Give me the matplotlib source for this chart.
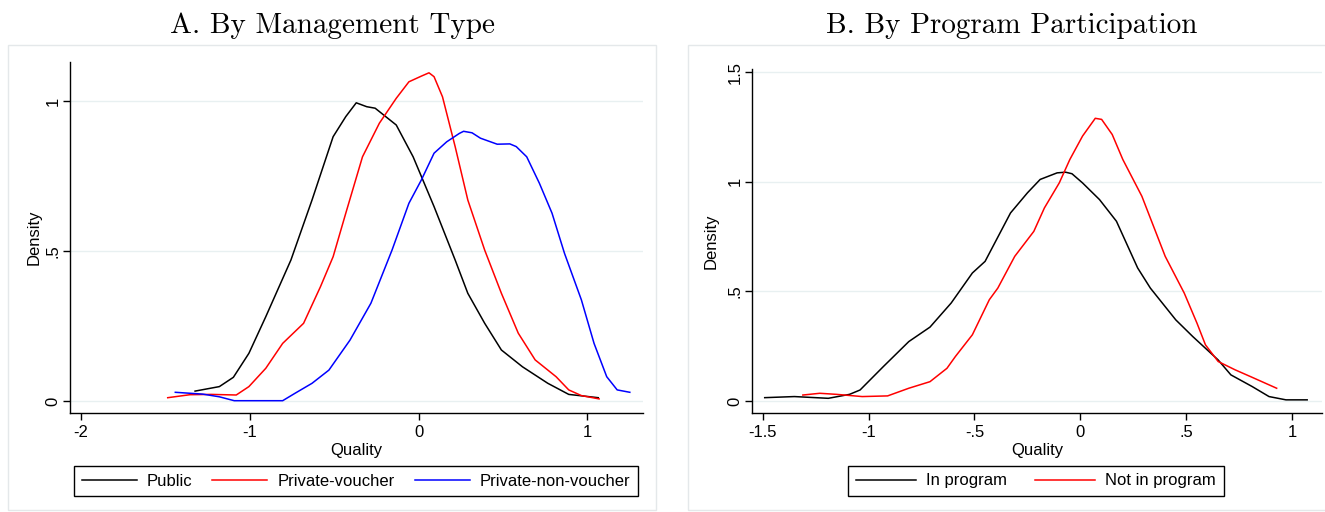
import matplotlib
matplotlib.use('Agg')
from matplotlib import pyplot as plt
from matplotlib.patches import Rectangle

plt.rcParams['font.family'] = ['Liberation Sans', 'DejaVu Sans']

# Panel A: density by management type
public_x = [-1.324, -1.18, -1.097, -1.005, -0.905, -0.756, -0.631, -0.506, -0.431, -0.369, -0.307, -0.257,
            -0.132, -0.032, 0.092, 0.217, 0.292, 0.392, 0.491, 0.616, 0.766, 0.89, 1.065]
public_y = [0.033, 0.048, 0.079, 0.159, 0.281, 0.47, 0.67, 0.881, 0.948, 0.994, 0.981, 0.976,
            0.92, 0.814, 0.648, 0.47, 0.359, 0.259, 0.17, 0.114, 0.059, 0.022, 0.011]

voucher_x = [-1.486, -1.354, -1.229, -1.08, -1.005, -0.905, -0.805, -0.681, -0.581, -0.506, -0.431, -0.332,
             -0.232, -0.132, -0.057, 0.017, 0.062, 0.092, 0.142, 0.217, 0.292, 0.392, 0.491, 0.591, 0.691,
             0.815, 0.89, 0.965, 1.07]
voucher_y = [0.011, 0.021, 0.022, 0.02, 0.048, 0.109, 0.192, 0.259, 0.381, 0.481, 0.626, 0.814,
             0.926, 1.009, 1.064, 1.083, 1.094, 1.081, 1.014, 0.848, 0.67, 0.503, 0.359, 0.226, 0.137,
             0.081, 0.037, 0.018, 0.007]

nonvoucher_x = [-1.441, -1.279, -1.18, -1.092, -0.805, -0.731, -0.631, -0.531, -0.406, -0.282, -0.157, -0.057,
                0.017, 0.092, 0.167, 0.242, 0.267, 0.317, 0.367, 0.466, 0.541, 0.579, 0.641, 0.716, 0.791,
                0.865, 0.965, 1.04, 1.115, 1.177, 1.252]
nonvoucher_y = [0.029, 0.023, 0.014, 0.001, 0.001, 0.026, 0.059, 0.103, 0.203, 0.326, 0.503, 0.659,
                0.737, 0.826, 0.864, 0.892, 0.899, 0.894, 0.876, 0.856, 0.857, 0.848, 0.814, 0.726, 0.626,
                0.492, 0.337, 0.192, 0.081, 0.037, 0.029]

# Panel B: density by program participation
inprog_x = [-1.49, -1.35, -1.19, -1.09, -1.04, -0.93, -0.81, -0.71, -0.61, -0.51, -0.45, -0.33, -0.25, -0.19,
            -0.11, -0.07, -0.04, 0.01, 0.09, 0.17, 0.27, 0.33, 0.45, 0.53, 0.65, 0.71, 0.81, 0.89, 0.97, 1.07]
inprog_y = [0.015, 0.02, 0.012, 0.03, 0.05, 0.157, 0.271, 0.337, 0.447, 0.584, 0.637, 0.858, 0.95, 1.011,
            1.041, 1.044, 1.037, 0.995, 0.919, 0.82, 0.607, 0.515, 0.37, 0.294, 0.187, 0.119, 0.066, 0.02,
            0.005, 0.005]

notprog_x = [-1.31, -1.23, -1.15, -1.03, -0.91, -0.81, -0.71, -0.63, -0.59, -0.51, -0.43, -0.39, -0.31, -0.22,
             -0.17, -0.1, -0.05, 0.01, 0.07, 0.1, 0.15, 0.2, 0.29, 0.4, 0.49, 0.55, 0.59, 0.65, 0.73, 0.81,
             0.926]
notprog_y = [0.027, 0.035, 0.03, 0.02, 0.023, 0.058, 0.088, 0.149, 0.203, 0.302, 0.462, 0.515, 0.66, 0.774,
             0.881, 0.995, 1.102, 1.209, 1.29, 1.285, 1.216, 1.102, 0.934, 0.66, 0.492, 0.355, 0.256, 0.18,
             0.142, 0.108, 0.058]

fig = plt.figure(figsize=(13.25, 5.12), dpi=100)

# light panel frames
fig.patches.append(Rectangle((8 / 1325, 2 / 512), 648 / 1325, 465 / 512, transform=fig.transFigure,
                             fill=False, edgecolor='#e4e8ea', lw=1))
fig.patches.append(Rectangle((688 / 1325, 2 / 512), 640 / 1325, 465 / 512, transform=fig.transFigure,
                             fill=False, edgecolor='#e4e8ea', lw=1))

FS = 12


def style(ax, xticks, xlabels, yticks, ylabels):
    for s in ['top', 'right']:
        ax.spines[s].set_visible(False)
    ax.spines['left'].set_linewidth(1.0)
    ax.spines['bottom'].set_linewidth(1.0)
    ax.set_xticks(xticks)
    ax.set_xticklabels(xlabels, fontsize=FS)
    ax.set_yticks(yticks)
    ax.set_yticklabels(ylabels, fontsize=FS, rotation=90, va='center')
    ax.tick_params(direction='out', length=5, width=1)
    ax.tick_params(axis='y', pad=2)
    for t in yticks:
        ax.axhline(t, color='#e8f0f1', lw=1, zorder=0)
    ax.set_xlabel('Quality', fontsize=FS, labelpad=2)
    ax.set_ylabel('Density', fontsize=FS, labelpad=0)


leg_kw = dict(fontsize=FS, frameon=True, fancybox=False, edgecolor='black',
              handletextpad=0.6, borderpad=0.45, borderaxespad=0, framealpha=1)

ax1 = fig.add_axes([70 / 1325, 1 - 413 / 512, 573 / 1325, 351 / 512])
ax1.plot(public_x, public_y, color='black', lw=1.1, label='Public')
ax1.plot(voucher_x, voucher_y, color='red', lw=1.1, label='Private-voucher')
ax1.plot(nonvoucher_x, nonvoucher_y, color='blue', lw=1.1, label='Private-non-voucher')
ax1.set_xlim(-2.065, 1.33)
ax1.set_ylim(-0.04, 1.13)
style(ax1, [-2, -1, 0, 1], ['-2', '-1', '0', '1'], [0, 0.5, 1], ['0', '.5', '1'])
ax1.yaxis.set_label_coords(-0.05, 0.5)
fig.text(332 / 1325, 1 - 26 / 512, 'A. By Management Type', fontsize=21, family='cmr10',
         ha='center', va='center')
ax1.legend(loc='center', bbox_to_anchor=(356 / 1325, 1 - 481 / 512), bbox_transform=fig.transFigure,
           ncol=3, handlelength=3.3, columnspacing=1.2, **leg_kw)

ax2 = fig.add_axes([752 / 1325, 1 - 413 / 512, 570 / 1325, 344 / 512])
ax2.plot(inprog_x, inprog_y, color='black', lw=1.1, label='In program')
ax2.plot(notprog_x, notprog_y, color='red', lw=1.1, label='Not in program')
ax2.set_xlim(-1.55, 1.14)
ax2.set_ylim(-0.055, 1.515)
style(ax2, [-1.5, -1, -0.5, 0, 0.5, 1], ['-1.5', '-1', '-.5', '0', '.5', '1'],
      [0, 0.5, 1, 1.5], ['0', '.5', '1', '1.5'])
ax2.yaxis.set_label_coords(-0.058, 0.5)
fig.text(1012 / 1325, 1 - 26 / 512, 'B. By Program Participation', fontsize=21, family='cmr10',
         ha='center', va='center')
ax2.legend(loc='center', bbox_to_anchor=(1036 / 1325, 1 - 481 / 512), bbox_transform=fig.transFigure,
           ncol=2, handlelength=3.6, columnspacing=1.7, **leg_kw)

fig.savefig('out.png', dpi=100)
